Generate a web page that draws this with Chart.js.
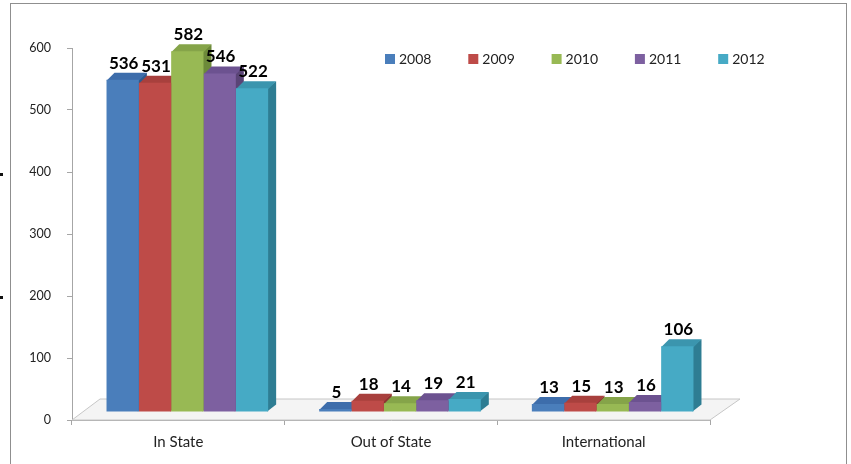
<!DOCTYPE html>
<html>
<head>
<meta charset="utf-8">
<script src="https://cdn.jsdelivr.net/npm/chart.js@4.4.1/dist/chart.umd.min.js"></script>
<style>
body { margin: 0; background: #fff; }
#wrap { position: relative; width: 851px; height: 464px; overflow: hidden; }
#myChart { position: absolute; left: 0; top: 0; }
#frame { position: absolute; left: 10px; top: 3px; width: 835px; height: 470px; border: 1px solid #8f8f8f; }
.mark { position: absolute; left: 0; width: 3px; height: 3px; background: #111; }
</style>
</head>
<body>
<div id="wrap">
  <canvas id="myChart" width="851" height="464"></canvas>
  <div id="frame"></div>
  <div class="mark" style="top:173px"></div>
  <div class="mark" style="top:296px"></div>
</div>
<script>
// ---------------- data
var categories = ["In State", "Out of State", "International"];
var years = ["2008", "2009", "2010", "2011", "2012"];
var values2008 = [536, 5, 13];
var values2009 = [531, 18, 15];
var values2010 = [582, 14, 13];
var values2011 = [546, 19, 16];
var values2012 = [522, 21, 106];
var seriesValues = [values2008, values2009, values2010, values2011, values2012];
var yMin = 0, yMax = 600, yStep = 100;

// ---------------- colours (front / side / top face)
var frontColors = ["#4a7ebb", "#be4b48", "#98b954", "#7d60a0", "#46aac5"];
var sideColors  = ["#2f5a8c", "#8c3431", "#6d8a3a", "#5a4476", "#2e7d93"];
var topColors   = ["#3d6dab", "#a8403d", "#85a449", "#6c5290", "#3b95ae"];

// perspective offsets
var shiftX = 9, shiftY = -8;
var depthX = 8, depthY = -7;

var bar3d = {
    id: "bar3d",
    beforeDatasetsDraw: function (chart) {
        var c = chart.ctx, a = chart.chartArea;
        // floor
        c.save();
        c.beginPath();
        c.moveTo(a.left, a.bottom);
        c.lineTo(a.right, a.bottom);
        c.lineTo(a.right + 30, a.bottom - 21);
        c.lineTo(a.left + 28, a.bottom - 21);
        c.closePath();
        c.fillStyle = "#f4f4f4";
        c.fill();
        c.strokeStyle = "#c6c6c6";
        c.lineWidth = 1;
        c.stroke();
        c.restore();
        // bars sit half way into the floor
        c.save();
        c.translate(shiftX, shiftY);
        // side + top faces, left to right; the fronts are drawn over them by chart.js
        categories.forEach(function (cat, j) {
            chart.data.datasets.forEach(function (ds, i) {
                var bar = chart.getDatasetMeta(i).data[j];
                var p = bar.getProps(["x", "y", "base", "width"], true);
                var l = p.x - p.width / 2, r = p.x + p.width / 2;
                c.beginPath();
                c.moveTo(r - 1, p.y);
                c.lineTo(r + depthX, p.y + depthY);
                c.lineTo(r + depthX, p.base + depthY);
                c.lineTo(r - 1, p.base);
                c.closePath();
                c.fillStyle = sideColors[i];
                c.fill();
                c.beginPath();
                c.moveTo(l, p.y + 1);
                c.lineTo(r, p.y + 1);
                c.lineTo(r + depthX, p.y + depthY);
                c.lineTo(l + depthX, p.y + depthY);
                c.closePath();
                c.fillStyle = topColors[i];
                c.fill();
            });
        });
    },
    afterDatasetsDraw: function (chart) {
        var c = chart.ctx;
        c.font = "bold 17px Lato";
        c.fillStyle = "#000";
        c.textAlign = "center";
        c.textBaseline = "alphabetic";
        chart.data.datasets.forEach(function (ds, i) {
            chart.getDatasetMeta(i).data.forEach(function (bar, j) {
                c.fillText(ds.data[j], bar.x + 1, bar.y - 11);
            });
        });
        c.restore();
    },
    afterDraw: function (chart) {
        // legend
        var c = chart.ctx;
        c.save();
        c.font = "14px Lato";
        c.textAlign = "left";
        c.textBaseline = "alphabetic";
        chart.data.datasets.forEach(function (ds, i) {
            var x = 385 + i * 83.3;
            c.fillStyle = ds.backgroundColor;
            c.fillRect(x, 54, 10, 10);
            c.fillStyle = "#222";
            c.fillText(ds.label, x + 14, 64);
        });
        c.restore();
    }
};

var ctx = document.getElementById("myChart").getContext("2d");
var chart = new Chart(ctx, {
    type: "bar",
    data: {
        labels: categories,
        datasets: years.map(function (y, i) {
            return {
                label: y,
                data: seriesValues[i],
                backgroundColor: frontColors[i],
                borderWidth: 0,
                categoryPercentage: 0.76,
                barPercentage: 1,
                clip: false
            };
        })
    },
    options: {
        responsive: false,
        animation: false,
        layout: { padding: { top: 48, right: 141, left: 0, bottom: 0 } },
        plugins: { legend: { display: false }, tooltip: { enabled: false } },
        scales: {
            x: {
                grid: { drawOnChartArea: false, tickLength: 5, color: "#a6a6a6", offset: true },
                border: { color: "#a6a6a6" },
                ticks: { font: { family: "Lato", size: 15 }, color: "#222", padding: 8 },
                afterFit: function (s) { s.height = 44; }
            },
            y: {
                min: yMin,
                max: yMax,
                ticks: { stepSize: yStep, font: { family: "Lato", size: 12.5 }, color: "#222", padding: 16 },
                grid: { drawOnChartArea: false, tickLength: 5, color: "#a6a6a6" },
                border: { color: "#a6a6a6" },
                afterFit: function (s) { s.width = 72; }
            }
        }
    },
    plugins: [bar3d]
});
</script>
</body>
</html>
